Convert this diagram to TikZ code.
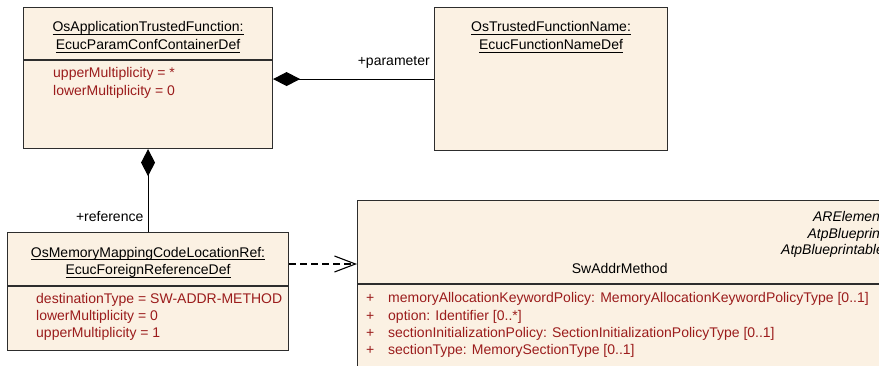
\documentclass[tikz,border=0pt]{standalone}
\usepackage{fontspec}
\setmainfont{Liberation Sans}
\usetikzlibrary{positioning,arrows.meta,calc}
\definecolor{clsfill}{RGB}{251,241,227}
\definecolor{attrred}{RGB}{155,28,28}
\definecolor{clsdraw}{RGB}{45,45,45}
\newcommand{\umlname}[1]{\setbox0\hbox{#1}\rlap{\rule[-3pt]{\wd0}{0.9pt}}\box0}

\begin{document}
\begin{tikzpicture}[
    x=1pt, y=-1pt,
    cls/.style={rectangle, draw=clsdraw, fill=clsfill, line width=1.1pt, anchor=north west, inner sep=0pt},
    divider/.style={draw=clsdraw, line width=1.1pt},
    ttl/.style={inner sep=0pt, align=center, anchor=north, font=\fontsize{14}{17.5}\selectfont},
    attr/.style={inner sep=0pt, align=left, anchor=north west, text=attrred, font=\fontsize{14}{17.3}\selectfont},
    stereo/.style={inner sep=0pt, align=right, anchor=north east, font=\fontsize{14}{16.5}\selectfont\itshape},
    lbl/.style={inner sep=0pt, font=\fontsize{14}{16}\selectfont},
    compo/.style={-{Diamond[length=27pt, width=14pt]}, line width=1.1pt},
    depend/.style={-{Straight Barb[length=21pt, width=16pt]}, dash pattern=on 7pt off 4pt, line width=1.1pt}
]
\useasboundingbox (0,0) rectangle (879,365);
\clip (0,0) rectangle (879,365);

% classes
\node[cls, minimum width=249pt, minimum height=141pt] (App) at (23,7) {};
\node[cls, minimum width=233pt, minimum height=143pt] (FnName) at (434,7) {};
\node[cls, minimum width=281pt, minimum height=118pt] (CodeRef) at (7,232) {};
\node[cls, minimum width=533pt, minimum height=190pt] (SwAddr) at (357,200) {};

\draw[divider] (App.west |- 0,60) -- (App.east |- 0,60);
\draw[divider] (CodeRef.west |- 0,286) -- (CodeRef.east |- 0,286);
\draw[divider] (SwAddr.west |- 0,284) -- (SwAddr.east |- 0,284);

% names
\node[ttl] (AppTtl) at ([yshift=-14.6pt]App.north) {\umlname{OsApplicationTrustedFunction:}\\\umlname{EcucParamConfContainerDef}};
\node[ttl] (FnNameTtl) at ([yshift=-14.6pt]FnName.north) {\umlname{OsTrustedFunctionName:}\\\umlname{EcucFunctionNameDef}};
\node[ttl] (CodeRefTtl) at ([yshift=-15pt]CodeRef.north) {\umlname{OsMemoryMappingCodeLocationRef:}\\\umlname{EcucForeignReferenceDef}};
\node[stereo] (SwAddrBase) at ([xshift=-7pt, yshift=-11.2pt]SwAddr.north east) {ARElement\\AtpBlueprint\\AtpBlueprintable};
\node[lbl, anchor=base] (SwAddrTtl) at (619.7,273.7) {SwAddrMethod};

% attributes
\node[attr] (AppAttr) at ([xshift=30pt, yshift=-60.6pt]App.north west) {upperMultiplicity = *\\lowerMultiplicity = 0};
\node[attr] (CodeRefAttr) at ([xshift=29pt, yshift=-61pt]CodeRef.north west) {destinationType = SW-ADDR-METHOD\\lowerMultiplicity = 0\\upperMultiplicity = 1};
\node[attr] (SwAddrAttr) at (366,292.4) {\makebox[22pt][l]{+}memoryAllocationKeywordPolicy: MemoryAllocationKeywordPolicyType [0..1]\\
    \makebox[22pt][l]{+}option: Identifier [0..*]\\
    \makebox[22pt][l]{+}sectionInitializationPolicy: SectionInitializationPolicyType [0..1]\\
    \makebox[22pt][l]{+}sectionType: MemorySectionType [0..1]};

% connectors
\draw[compo] (FnName.west) -- (FnName.west -| App.east);
\node[lbl, anchor=base east] (ParLbl) at ([xshift=-4pt, yshift=13.5pt]FnName.west) {+parameter};
\draw[compo] (CodeRef.north) -- (App.south);
\node[lbl, anchor=base east] (RefLbl) at ([xshift=-4.5pt, yshift=10.3pt]CodeRef.north) {+reference};
\coordinate (DepStart) at ([yshift=-32pt]CodeRef.north east);
\draw[depend] (DepStart) -- (DepStart -| SwAddr.west);

\end{tikzpicture}
\end{document}
